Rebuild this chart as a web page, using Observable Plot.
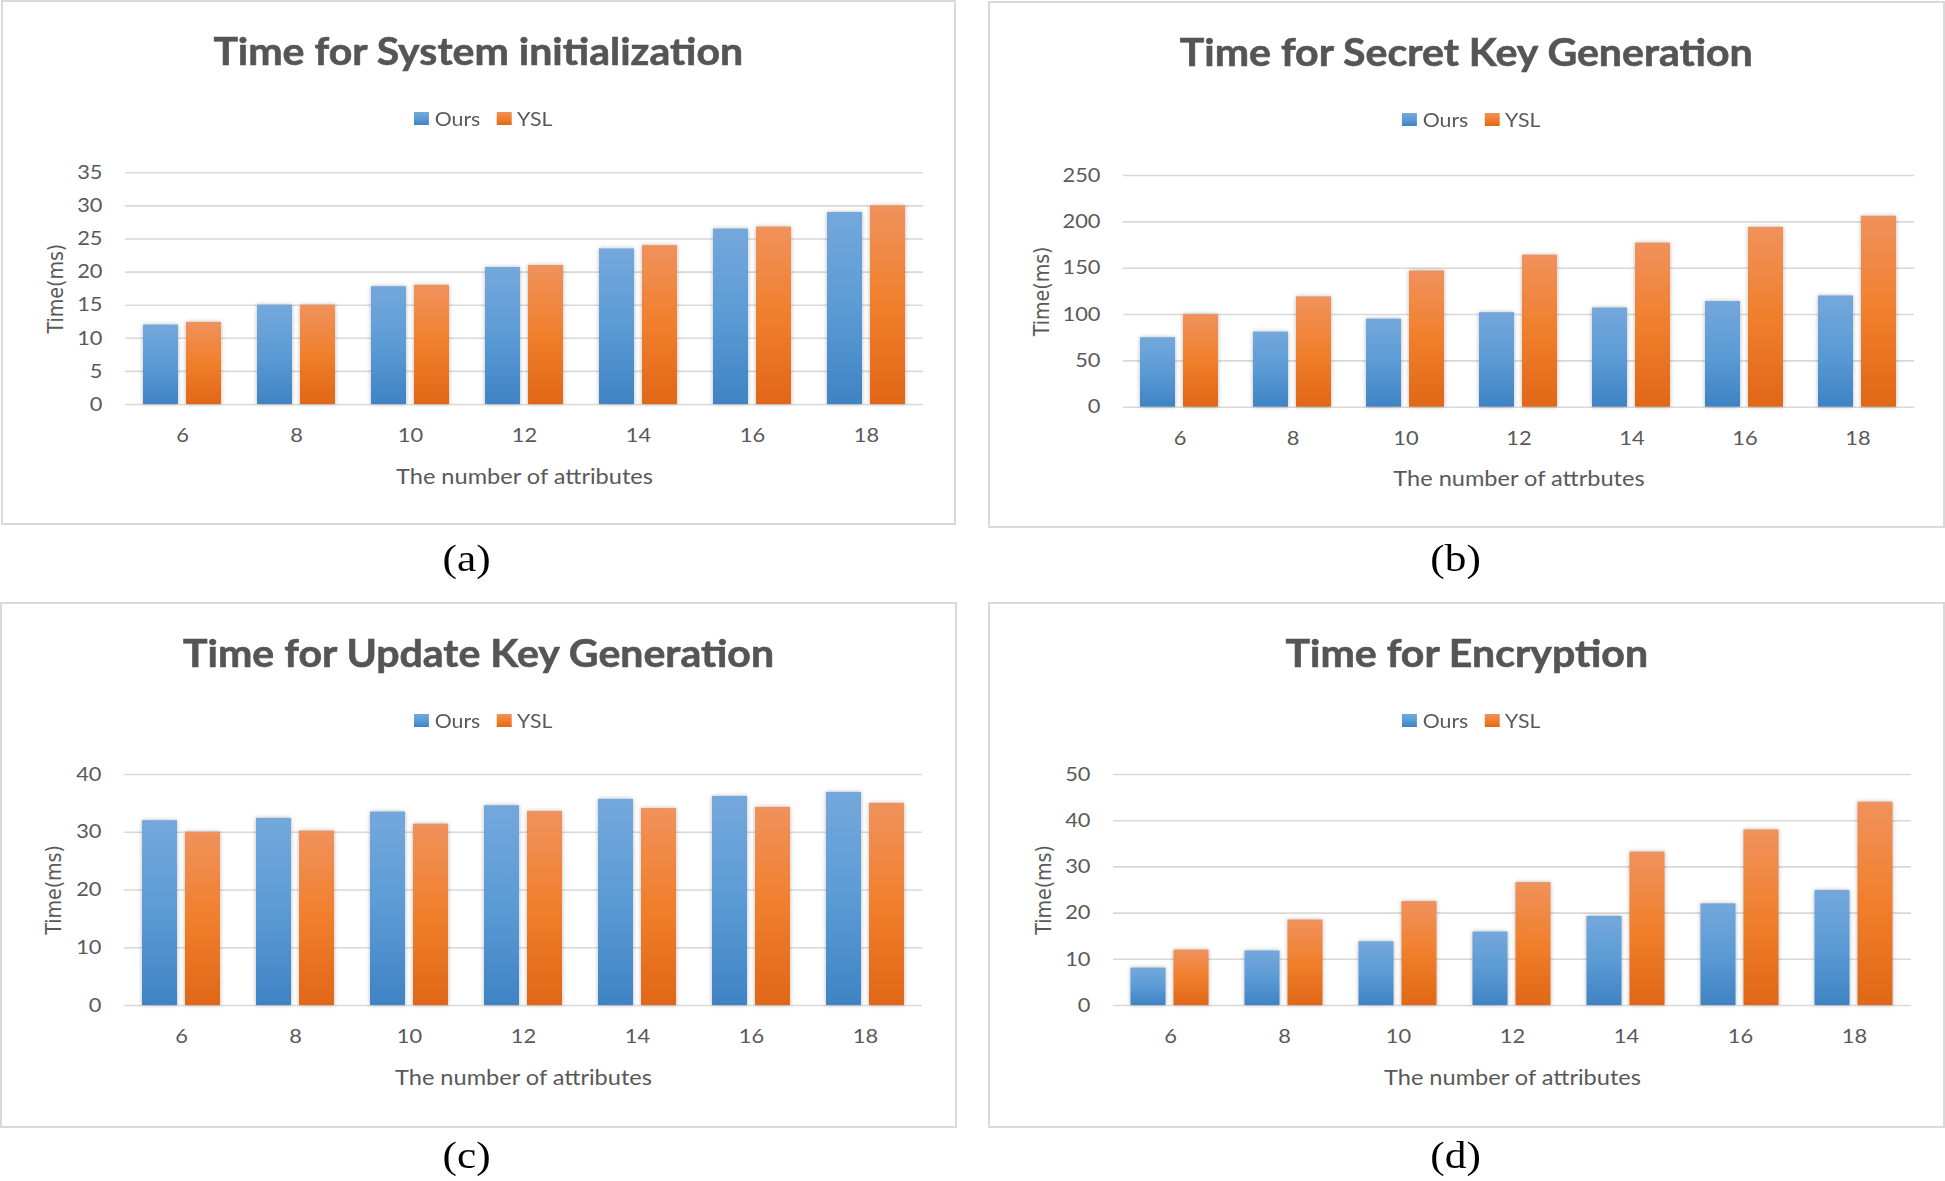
<!DOCTYPE html>
<html>
<head>
<meta charset="utf-8">
<script src="https://cdn.jsdelivr.net/npm/d3@7"></script>
<script src="https://cdn.jsdelivr.net/npm/@observablehq/plot@0.6"></script>
<style>
html, body { margin: 0; padding: 0; background: #fff; }
body { width: 1945px; height: 1181px; position: relative; overflow: hidden; font-family: Lato, sans-serif; }
.box { position: absolute; box-sizing: border-box; border: 2px solid #d9d9d9; }
.title { position: absolute; text-align: center; font-family: Lato, sans-serif; font-weight: 700; font-size: 38px; line-height: 40px; color: #555555; white-space: nowrap; }
.title span { display: inline-block; transform: scaleX(1.08); -webkit-text-stroke: 0.6px #555555; }
.legend { position: absolute; height: 22px; display: flex; justify-content: center; align-items: center; }
.legend .inner { display: inline-flex; align-items: center; transform: scaleX(1.15); font-family: Lato, sans-serif; font-size: 18.5px; color: #595959; }
.legend .item { display: flex; align-items: center; margin: 0 7px; }
.legend .sw { width: 13px; height: 13px; margin-right: 5px; }
.cap { position: absolute; width: 200px; text-align: center; font-family: "Liberation Serif", "Times New Roman", serif; font-size: 37px; line-height: 40px; color: #000; }
.cap span { display: inline-block; transform: scaleX(1.17); }
.chart { position: absolute; }
.chart g[aria-label="bar"] rect { filter: drop-shadow(0px 0px 2px rgba(0,0,0,0.28)); }
.chart g[aria-label="y-axis label"] text { font-family: "DejaVu Sans", sans-serif; font-size: 19px; }
.chart g[aria-label="fx-axis label"] text { font-size: 20.5px; }
</style>
</head>
<body>
<script>
// ---------- data ----------
const cats = [6, 8, 10, 12, 14, 16, 18];
const seriesNames = ["Ours", "YSL"];
const titles = ["Time for System initialization", "Time for Secret Key Generation", "Time for Update Key Generation", "Time for Encryption"];
const xTitles = ["The number of attributes", "The number of attrbutes", "The number of attributes", "The number of attributes"];
const yTitle = "Time(ms)";
const captions = ["(a)", "(b)", "(c)", "(d)"];

const initOurs = [12, 15, 17.8, 20.7, 23.5, 26.5, 29];
const initYSL  = [12.4, 15, 18, 21, 24, 26.8, 30];
const skOurs   = [75, 81, 95, 102, 107, 114, 120];
const skYSL    = [100, 119, 147, 164, 177, 194, 206];
const ukOurs   = [32, 32.4, 33.5, 34.6, 35.7, 36.2, 36.9];
const ukYSL    = [30, 30.2, 31.4, 33.6, 34.1, 34.3, 35];
const encOurs  = [8.1, 11.8, 13.8, 15.9, 19.3, 22, 24.9];
const encYSL   = [12, 18.5, 22.5, 26.6, 33.2, 38, 44];

const initTicks = [0, 5, 10, 15, 20, 25, 30, 35];
const skTicks   = [0, 50, 100, 150, 200, 250];
const ukTicks   = [0, 10, 20, 30, 40];
const encTicks  = [0, 10, 20, 30, 40, 50];

// ---------- layout (style only) ----------
const panels = [
  {ours: initOurs, ysl: initYSL, ticks: initTicks, box: [1, 0, 955, 525], svg: [3, 140, 950, 370], m: [32.3, 30, 106, 121], ylo: 78, cap: [467, 562]},
  {ours: skOurs, ysl: skYSL, ticks: skTicks, box: [988, 1, 957, 527], svg: [990, 140, 952, 370], m: [35, 28, 103.3, 133], ylo: 90, cap: [1456, 562]},
  {ours: ukOurs, ysl: ukYSL, ticks: ukTicks, box: [0, 602, 957, 526], svg: [2, 740, 952, 370], m: [34, 30, 105, 120], ylo: 79, cap: [467, 1159]},
  {ours: encOurs, ysl: encYSL, ticks: encTicks, box: [988, 602, 957, 526], svg: [990, 740, 952, 370], m: [34, 28, 105, 120.5], ylo: 78.5, cap: [1456, 1159]}
];

const blueStops = [["0", "#74a8dc"], ["0.5", "#5b9bd5"], ["1", "#3f83c4"]];
const orangeStops = [["0", "#f0925c"], ["0.5", "#f07f2c"], ["1", "#e06716"]];

function el(tag, cls, parent) {
  const e = document.createElement(tag);
  if (cls) e.className = cls;
  (parent || document.body).appendChild(e);
  return e;
}

panels.forEach((p, k) => {
  const id = "p" + k;
  const [bl, bt, bw, bh] = p.box;
  const box = el("div", "box");
  Object.assign(box.style, {left: bl + "px", top: bt + "px", width: bw + "px", height: bh + "px"});

  // title
  const t = el("div", "title");
  Object.assign(t.style, {left: bl + "px", width: bw + "px", top: (bt + 29.5) + "px"});
  const ts = el("span", null, t); ts.textContent = titles[k];

  // legend
  const lg = el("div", "legend");
  Object.assign(lg.style, {left: (bl + 5) + "px", width: bw + "px", top: (bt + 118.5 - 11) + "px"});
  const inner = el("div", "inner", lg);
  seriesNames.forEach((s, i) => {
    const it = el("div", "item", inner);
    const sw = el("div", "sw", it);
    const stops = i === 0 ? blueStops : orangeStops;
    sw.style.background = `linear-gradient(to bottom, ${stops.map(d => d[1] + " " + (+d[0] * 100) + "%").join(", ")})`;
    const tx = el("span", null, it); tx.textContent = s;
  });

  // chart
  const rows = cats.flatMap((c, i) => [
    {cat: c, series: seriesNames[0], value: p.ours[i]},
    {cat: c, series: seriesNames[1], value: p.ysl[i]}
  ]);
  const [sl, st, sw, sh] = p.svg;
  const [mt, mr, mb, ml] = p.m;
  const chart = Plot.plot({
    width: sw, height: sh,
    marginTop: mt, marginRight: mr, marginBottom: mb, marginLeft: ml,
    style: {fontFamily: "Lato, sans-serif", fontSize: "19.5px", color: "#595959", background: "transparent", overflow: "visible"},
    fx: {domain: cats, padding: 0, axis: "bottom", label: xTitles[k], labelAnchor: "center", labelOffset: 79, tickSize: 0, tickPadding: 24},
    x: {domain: seriesNames, paddingInner: 0.18, paddingOuter: 0.39, axis: null},
    y: {domain: [0, p.ticks[p.ticks.length - 1]], ticks: p.ticks, tickSize: 0, tickPadding: 23, label: yTitle, labelAnchor: "center", labelOffset: p.ylo, labelArrow: false},
    color: {domain: seriesNames, range: [`url(#${id}-blue)`, `url(#${id}-orange)`]},
    marks: [
      Plot.ruleY(p.ticks, {stroke: "#d9d9d9", strokeWidth: 1.6}),
      Plot.barY(rows, {fx: "cat", x: "series", y: "value", fill: "series"})
    ]
  });
  const ns = "http://www.w3.org/2000/svg";
  const defs = document.createElementNS(ns, "defs");
  [["blue", blueStops], ["orange", orangeStops]].forEach(([name, stops]) => {
    const g = document.createElementNS(ns, "linearGradient");
    g.setAttribute("id", `${id}-${name}`);
    g.setAttribute("x1", "0"); g.setAttribute("y1", "0"); g.setAttribute("x2", "0"); g.setAttribute("y2", "1");
    stops.forEach(([o, c]) => {
      const s = document.createElementNS(ns, "stop");
      s.setAttribute("offset", o); s.setAttribute("stop-color", c);
      g.appendChild(s);
    });
    defs.appendChild(g);
  });
  chart.insertBefore(defs, chart.firstChild);
  chart.querySelectorAll('g[aria-label="y-axis tick label"] text, g[aria-label="fx-axis tick label"] text').forEach(tx => {
    const tr = tx.getAttribute("transform");
    if (tr && tr.startsWith("translate")) tx.setAttribute("transform", tr + " scale(1.12,1)");
  });
  chart.querySelectorAll('g[aria-label="fx-axis label"] text').forEach(tx => {
    const tr = tx.getAttribute("transform");
    if (tr && tr.startsWith("translate")) tx.setAttribute("transform", tr + " scale(1.15,1)");
  });
  chart.querySelectorAll('g[aria-label="y-axis label"] text').forEach(tx => {
    const tr = tx.getAttribute("transform");
    if (tr && tr.startsWith("translate")) tx.setAttribute("transform", tr + " scale(1,1.15)");
  });
  const holder = el("div", "chart");
  Object.assign(holder.style, {left: sl + "px", top: st + "px"});
  holder.appendChild(chart);

  // caption
  const cp = el("div", "cap");
  Object.assign(cp.style, {left: (p.cap[0] - 100) + "px", top: (p.cap[1] - 23) + "px"});
  const cs = el("span", null, cp); cs.textContent = captions[k];
});
</script>
</body>
</html>
